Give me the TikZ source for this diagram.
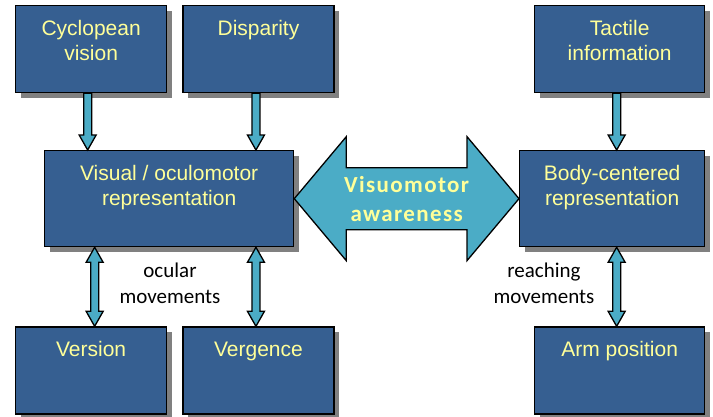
\documentclass[tikz,border=0pt]{standalone}
\usepackage{fontspec}
\setmainfont{Liberation Sans}
\newfontfamily\calibri{Carlito}
\newfontfamily\awarefont[LetterSpace=6]{Carlito}
\usepackage{tikz}
\usetikzlibrary{positioning,calc,shadows}

\definecolor{panelblue}{HTML}{365F91}
\definecolor{panelyellow}{HTML}{FFFF99}
\definecolor{arrowblue}{HTML}{4BACC6}
\definecolor{shadowgray}{HTML}{808080}

\newcommand{\panel}[3]{\parbox[c][#2][t]{#1}{\centering\rule{0pt}{30pt}#3}}
\newcommand{\downblock}[2]{\draw[blockarrow] ($(#1)+(-4,0)$) -- ($(#2)+(-4,-15)$) -- ($(#2)+(-8.5,-15)$) -- (#2) -- ($(#2)+(8.5,-15)$) -- ($(#2)+(4,-15)$) -- ($(#1)+(4,0)$) -- cycle;}
\newcommand{\bothblock}[2]{\draw[blockarrow] (#1) -- ($(#1)+(8.5,15)$) -- ($(#1)+(4,15)$) -- ($(#2)+(4,-15)$) -- ($(#2)+(8.5,-15)$) -- (#2) -- ($(#2)+(-8.5,-15)$) -- ($(#2)+(-4,-15)$) -- ($(#1)+(-4,15)$) -- ($(#1)+(-8.5,15)$) -- cycle;}

\tikzset{
 box/.style={draw=black, line width=1.3pt, fill=panelblue, text=panelyellow, inner sep=0pt, font=\fontsize{21}{25}\selectfont, drop shadow={shadow xshift=5pt, shadow yshift=-5pt, fill=shadowgray, opacity=1}},
 blockarrow/.style={draw=black, line width=1.3pt, fill=arrowblue},
 motion/.style={align=center, font=\calibri\fontsize{21}{26}\selectfont},
 aware/.style={align=center, text=panelyellow, font=\awarefont\bfseries\fontsize{23}{29}\selectfont}
}

\begin{document}
\begin{tikzpicture}[x=1pt,y=-1pt]
\useasboundingbox (0,0) rectangle (713,416);
\node[box, anchor=north west] (cyc) at (15,5) {\panel{151pt}{87pt}{Cyclopean\\vision}};
\node[box, right=15pt of cyc] (disp) {\panel{151pt}{87pt}{Disparity}};
\node[box, anchor=north west] (tact) at (534,5) {\panel{170pt}{87pt}{Tactile\\information}};
\node[box, anchor=north west] (vis) at (44,150) {\panel{249pt}{96pt}{Visual / oculomotor\\representation}};
\node[box, anchor=north west] (body) at (519,150) {\panel{185pt}{96pt}{Body-centered\\representation}};
\node[box, below=233pt of cyc] (ver) {\panel{151pt}{87pt}{Version}};
\node[box, right=15pt of ver] (verg) {\panel{151pt}{87pt}{Vergence}};
\node[box, below=233pt of tact] (arm) {\panel{170pt}{87pt}{Arm position}};

\path ([xshift=-3.5pt]cyc.south) coordinate (c1) ([xshift=-2.5pt]disp.south) coordinate (c2) ([xshift=-3pt]tact.south) coordinate (c3);
\path ([xshift=3.5pt]ver.north) coordinate (d1) ([xshift=-2.5pt]verg.north) coordinate (d2) ([xshift=-3pt]arm.north) coordinate (d3);
\downblock{c1}{c1 |- vis.north} \downblock{c2}{c2 |- vis.north} \downblock{c3}{c3 |- body.north}
\bothblock{d1 |- vis.south}{d1} \bothblock{d2 |- vis.south}{d2} \bothblock{d3 |- body.south}{d3}

\draw[blockarrow] (vis.east) -- ($(vis.east)+(52,-62)$) -- ($(vis.east)+(52,-31)$) -- ($(body.west)+(-52,-31)$) -- ($(body.west)+(-52,-62)$) -- (body.west) -- ($(body.west)+(-52,62)$) -- ($(body.west)+(-52,31)$) -- ($(vis.east)+(52,31)$) -- ($(vis.east)+(52,62)$) -- cycle;
\node[aware] (aw) at ($(vis.east)!0.5!(body.west)$) {Visuomotor\\awareness};
\node[motion] (ocular) at (170,283) {ocular\\movements};
\node[motion] (reach) at (544,283) {reaching\\movements};
\end{tikzpicture}
\end{document}
